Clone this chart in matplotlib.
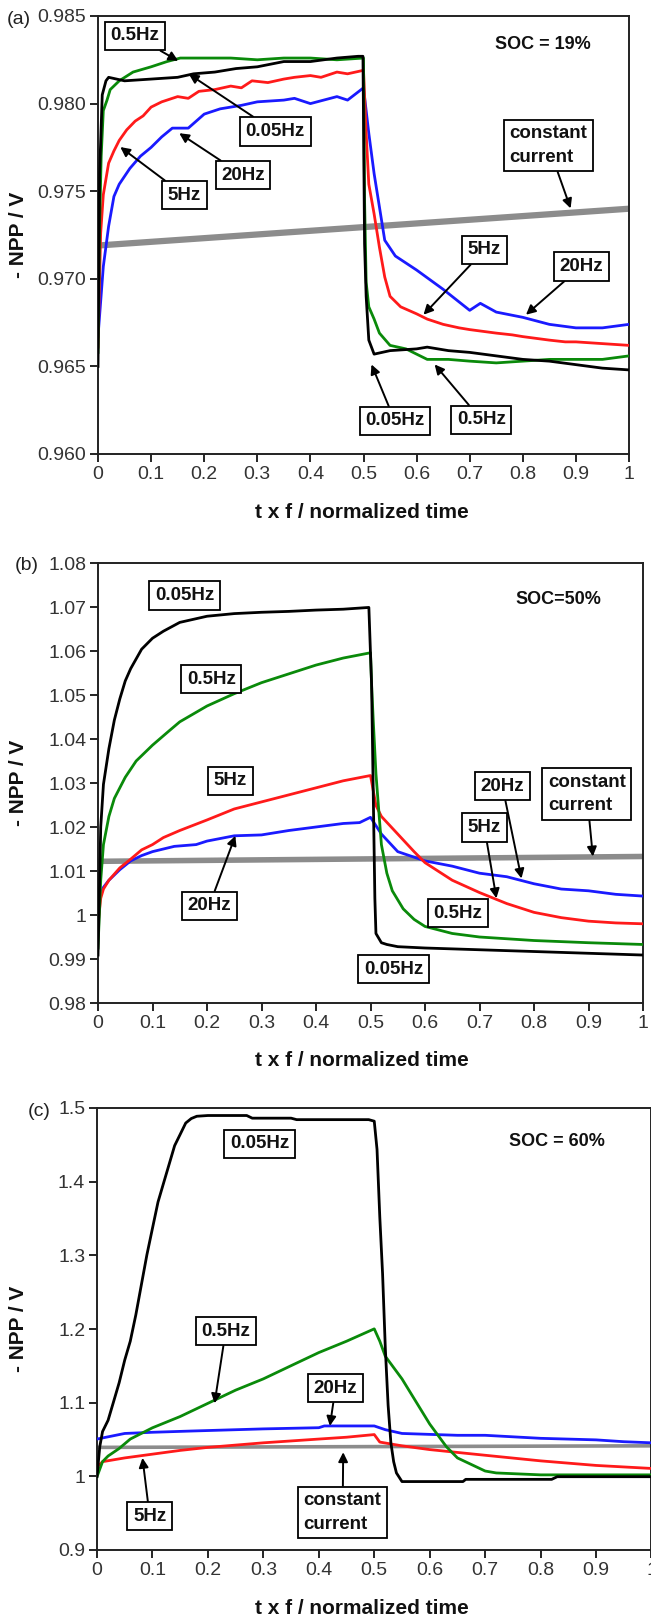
import matplotlib
matplotlib.use("Agg")
import matplotlib.pyplot as plt

plt.rcParams['font.family'] = ['Liberation Sans', 'DejaVu Sans']

# ---------------- Panel (a) SOC = 19% ----------------
a_cc_x = [0.0, 1.0]
a_cc_y = [0.9719, 0.9740]

a_005_x = [0.0, 0.003, 0.008, 0.015, 0.02, 0.05, 0.1, 0.15, 0.18, 0.22, 0.26, 0.3, 0.35, 0.4, 0.45, 0.49, 0.499,
           0.502, 0.505, 0.51, 0.52, 0.55, 0.6, 0.62, 0.66, 0.7, 0.75, 0.8, 0.85, 0.9, 0.95, 1.0]
a_005_y = [0.9650, 0.9760, 0.9805, 0.9813, 0.9815, 0.9813, 0.9814, 0.9815, 0.9817, 0.9818, 0.9820, 0.9821, 0.9824,
           0.9824, 0.9826, 0.9827, 0.9827, 0.9720, 0.9690, 0.9665, 0.9657, 0.9659, 0.9660, 0.9661, 0.9659, 0.9658,
           0.9656, 0.9654, 0.9653, 0.9651, 0.9649, 0.9648]

a_05_x = [0.0, 0.003, 0.006, 0.01, 0.017, 0.023, 0.04, 0.066, 0.1, 0.13, 0.155, 0.2, 0.25, 0.3, 0.35, 0.4, 0.45,
          0.5, 0.502, 0.505, 0.51, 0.52, 0.53, 0.55, 0.58, 0.6, 0.62, 0.66, 0.7, 0.75, 0.8, 0.85, 0.9, 0.95, 1.0]
a_05_y = [0.9658, 0.9730, 0.9770, 0.9796, 0.9802, 0.9808, 0.9813, 0.9818, 0.9821, 0.9824, 0.9826, 0.9826, 0.9826,
          0.9825, 0.9826, 0.9826, 0.9825, 0.9826, 0.9745, 0.9698, 0.9684, 0.9677, 0.9669, 0.9662, 0.9660, 0.9657,
          0.9654, 0.9654, 0.9653, 0.9652, 0.9653, 0.9654, 0.9654, 0.9654, 0.9656]

a_5_x = [0.0, 0.005, 0.01, 0.02, 0.03, 0.04, 0.054, 0.07, 0.085, 0.1, 0.12, 0.15, 0.17, 0.19, 0.22, 0.25, 0.27,
         0.29, 0.32, 0.35, 0.37, 0.4, 0.42, 0.45, 0.47, 0.5, 0.505, 0.51, 0.52, 0.53, 0.54, 0.55, 0.57, 0.6, 0.62,
         0.65, 0.68, 0.7, 0.75, 0.78, 0.8, 0.85, 0.88, 0.9, 0.95, 1.0]
a_5_y = [0.9661, 0.9726, 0.9748, 0.9766, 0.9773, 0.9779, 0.9785, 0.9790, 0.9793, 0.9798, 0.9801, 0.9804, 0.9803,
         0.9807, 0.9808, 0.9810, 0.9809, 0.9813, 0.9812, 0.9814, 0.9815, 0.9816, 0.9815, 0.9818, 0.9817, 0.9819,
         0.9783, 0.9754, 0.9737, 0.9718, 0.9701, 0.9690, 0.9684, 0.9680, 0.9677, 0.9674, 0.9672, 0.9671, 0.9669,
         0.9668, 0.9667, 0.9665, 0.9664, 0.9664, 0.9663, 0.9662]

a_20_x = [0.0, 0.01, 0.02, 0.03, 0.04, 0.06, 0.08, 0.1, 0.12, 0.14, 0.17, 0.2, 0.23, 0.27, 0.3, 0.35, 0.37, 0.4,
          0.45, 0.47, 0.5, 0.51, 0.52, 0.53, 0.54, 0.56, 0.6, 0.65, 0.7, 0.72, 0.75, 0.8, 0.85, 0.9, 0.95, 1.0]
a_20_y = [0.9667, 0.9707, 0.9730, 0.9747, 0.9754, 0.9763, 0.9770, 0.9775, 0.9781, 0.9786, 0.9786, 0.9794, 0.9797,
          0.9799, 0.9801, 0.9802, 0.9803, 0.9800, 0.9804, 0.9802, 0.9809, 0.9783, 0.9760, 0.9741, 0.9722, 0.9713,
          0.9705, 0.9694, 0.9682, 0.9686, 0.9681, 0.9678, 0.9674, 0.9672, 0.9672, 0.9674]

# ---------------- Panel (b) SOC = 50% ----------------
b_cc_x = [0.0, 1.0]
b_cc_y = [1.0122, 1.0133]

b_005_x = [0.0, 0.003, 0.005, 0.01, 0.02, 0.03, 0.04, 0.05, 0.06, 0.08, 0.1, 0.12, 0.15, 0.2, 0.25, 0.3, 0.35,
           0.4, 0.45, 0.497, 0.502, 0.505, 0.508, 0.51, 0.52, 0.53, 0.55, 0.6, 0.7, 0.8, 0.9, 1.0]
b_005_y = [0.9909, 1.0078, 1.0200, 1.0297, 1.0378, 1.0443, 1.0491, 1.0532, 1.0560, 1.0604, 1.0629, 1.0645, 1.0665,
           1.0679, 1.0685, 1.0688, 1.0690, 1.0693, 1.0695, 1.0699, 1.0524, 1.0281, 1.0038, 0.9958, 0.9937, 0.9933,
           0.9928, 0.9925, 0.9921, 0.9917, 0.9913, 0.9909]

b_05_x = [0.0, 0.005, 0.01, 0.02, 0.03, 0.05, 0.07, 0.1, 0.13, 0.15, 0.2, 0.25, 0.3, 0.35, 0.4, 0.45, 0.5, 0.502,
          0.505, 0.51, 0.515, 0.52, 0.53, 0.54, 0.56, 0.58, 0.6, 0.65, 0.7, 0.8, 0.9, 1.0]
b_05_y = [0.9925, 1.0079, 1.0160, 1.0224, 1.0265, 1.0313, 1.0350, 1.0386, 1.0418, 1.0439, 1.0475, 1.0503, 1.0528,
          1.0548, 1.0568, 1.0584, 1.0596, 1.0524, 1.0443, 1.0321, 1.0240, 1.0160, 1.0095, 1.0055, 1.0014, 0.9990,
          0.9974, 0.9958, 0.9950, 0.9942, 0.9937, 0.9933]

b_5_x = [0.0, 0.005, 0.01, 0.02, 0.04, 0.06, 0.08, 0.1, 0.12, 0.15, 0.2, 0.25, 0.3, 0.35, 0.4, 0.45, 0.5, 0.51,
         0.52, 0.55, 0.58, 0.6, 0.65, 0.7, 0.75, 0.8, 0.85, 0.9, 0.95, 1.0]
b_5_y = [0.9978, 1.0038, 1.0059, 1.0079, 1.0107, 1.0127, 1.0148, 1.0160, 1.0176, 1.0192, 1.0216, 1.0241, 1.0257,
         1.0273, 1.0289, 1.0305, 1.0317, 1.0249, 1.0224, 1.0184, 1.0144, 1.0119, 1.0079, 1.0051, 1.0026, 1.0006,
         0.9994, 0.9986, 0.9982, 0.9980]

b_20_x = [0.0, 0.01, 0.02, 0.04, 0.06, 0.08, 0.1, 0.14, 0.18, 0.2, 0.25, 0.3, 0.35, 0.4, 0.45, 0.48, 0.5, 0.52,
          0.55, 0.6, 0.65, 0.7, 0.75, 0.8, 0.85, 0.9, 0.95, 1.0]
b_20_y = [1.0038, 1.0063, 1.0079, 1.0103, 1.0123, 1.0135, 1.0144, 1.0156, 1.0160, 1.0168, 1.0180, 1.0182, 1.0192,
          1.0200, 1.0208, 1.0210, 1.0222, 1.0184, 1.0144, 1.0123, 1.0111, 1.0095, 1.0087, 1.0071, 1.0059, 1.0055,
          1.0047, 1.0043]

# ---------------- Panel (c) SOC = 60% ----------------
c_cc_x = [0.0, 1.0]
c_cc_y = [1.0393, 1.0414]

c_005_x = [0.0, 0.005, 0.01, 0.02, 0.03, 0.04, 0.05, 0.06, 0.07, 0.08, 0.09, 0.1, 0.11, 0.12, 0.13, 0.14, 0.15,
           0.16, 0.17, 0.18, 0.2, 0.27, 0.28, 0.35, 0.36, 0.49, 0.5, 0.505, 0.51, 0.515, 0.52, 0.525, 0.53, 0.535,
           0.54, 0.55, 0.6, 0.66, 0.665, 0.82, 0.83, 1.0]
c_005_y = [0.9995, 1.0403, 1.0608, 1.0761, 1.1016, 1.1272, 1.1578, 1.1834, 1.2191, 1.2600, 1.3008, 1.3366, 1.3723,
           1.3979, 1.4234, 1.4489, 1.4642, 1.4796, 1.4857, 1.4888, 1.4898, 1.4898, 1.4862, 1.4862, 1.4842, 1.4842,
           1.4821, 1.4438, 1.3519, 1.2753, 1.1731, 1.0965, 1.0455, 1.0199, 1.0046, 0.9929, 0.9929, 0.9929, 0.9959,
           0.9959, 0.9995, 0.9995]

c_05_x = [0.0, 0.01, 0.02, 0.04, 0.06, 0.1, 0.15, 0.2, 0.25, 0.3, 0.35, 0.4, 0.45, 0.5, 0.51, 0.52, 0.55, 0.6,
          0.63, 0.65, 0.7, 0.72, 0.8, 1.0]
c_05_y = [0.9995, 1.0199, 1.0276, 1.0378, 1.0506, 1.0659, 1.0812, 1.0991, 1.1170, 1.1323, 1.1502, 1.1680, 1.1834,
          1.2002, 1.1834, 1.1629, 1.1323, 1.0710, 1.0403, 1.0250, 1.0072, 1.0046, 1.0020, 1.0020]

c_20_x = [0.0, 0.05, 0.1, 0.17, 0.3, 0.4, 0.41, 0.5, 0.52, 0.55, 0.65, 0.7, 0.8, 0.9, 0.95, 1.0]
c_20_y = [1.0506, 1.0582, 1.0598, 1.0615, 1.0644, 1.0660, 1.0684, 1.0684, 1.0633, 1.0582, 1.0557, 1.0557, 1.0516,
          1.0495, 1.0470, 1.0455]

c_5_x = [0.0, 0.01, 0.05, 0.1, 0.15, 0.2, 0.3, 0.4, 0.45, 0.5, 0.51, 0.55, 0.6, 0.7, 0.8, 0.9, 1.0]
c_5_y = [1.0123, 1.0199, 1.0250, 1.0301, 1.0352, 1.0393, 1.0455, 1.0506, 1.0531, 1.0567, 1.0465, 1.0414, 1.0363,
         1.0286, 1.0210, 1.0148, 1.0107]

# ticks
x_ticks = [0, 0.1, 0.2, 0.3, 0.4, 0.5, 0.6, 0.7, 0.8, 0.9, 1.0]
x_ticklabels = ['0', '0.1', '0.2', '0.3', '0.4', '0.5', '0.6', '0.7', '0.8', '0.9', '1']
a_yticks = [0.960, 0.965, 0.970, 0.975, 0.980, 0.985]
a_yticklabels = ['0.960', '0.965', '0.970', '0.975', '0.980', '0.985']
b_yticks = [0.98, 0.99, 1.00, 1.01, 1.02, 1.03, 1.04, 1.05, 1.06, 1.07, 1.08]
b_yticklabels = ['0.98', '0.99', '1', '1.01', '1.02', '1.03', '1.04', '1.05', '1.06', '1.07', '1.08']
c_yticks = [0.9, 1.0, 1.1, 1.2, 1.3, 1.4, 1.5]
c_yticklabels = ['0.9', '1', '1.1', '1.2', '1.3', '1.4', '1.5']

GREEN = '#0a8a0a'
RED = '#ff1a1a'
BLUE = '#1a1aff'
GRAY = '#8c8c8c'
TXT = '#111111'

fig = plt.figure(figsize=(6.51, 16.18), dpi=100)
W, H = 651.0, 1618.0


def make_ax(left, right, top, bottom):
    return fig.add_axes([left / W, 1 - bottom / H, (right - left) / W, (bottom - top) / H])


axA = make_ax(98, 629, 16, 454)
axB = make_ax(98, 643, 563, 1003)
axC = make_ax(97, 651.5, 1108, 1550)

box = dict(boxstyle='square,pad=0.3', fc='white', ec='black', lw=1.3)
arrow = dict(arrowstyle='-|>', color='black', lw=1.4, mutation_scale=14, shrinkA=0, shrinkB=0)


def lab(ax, text, xt, yt, tip=None):
    kw = dict(fontsize=13.5, fontweight='bold', color=TXT, ha='center', va='center', bbox=box,
              multialignment='left', linespacing=1.5)
    if tip is None:
        ax.text(xt, yt, text, zorder=6, **kw)
    else:
        ax.annotate(text, xy=tip, xytext=(xt, yt), arrowprops=arrow, zorder=6, **kw)


def style(ax, yticks, yticklabels, ylim):
    ax.set_xlim(0, 1)
    ax.set_ylim(*ylim)
    ax.set_xticks(x_ticks)
    ax.set_xticklabels(x_ticklabels)
    ax.set_yticks(yticks)
    ax.set_yticklabels(yticklabels)
    ax.tick_params(direction='out', length=6, width=1.2, labelsize=14, colors='black', labelcolor='#333333', pad=2.5)
    for s in ax.spines.values():
        s.set_linewidth(1.4)
        s.set_color('#222222')


# Panel (a)
axA.plot(a_cc_x, a_cc_y, color=GRAY, lw=4.5, solid_capstyle='butt', zorder=2)
axA.plot(a_20_x, a_20_y, color=BLUE, lw=2.0, zorder=3)
axA.plot(a_5_x, a_5_y, color=RED, lw=2.0, zorder=3)
axA.plot(a_05_x, a_05_y, color=GREEN, lw=2.0, zorder=3)
axA.plot(a_005_x, a_005_y, color='black', lw=2.0, zorder=4)
style(axA, a_yticks, a_yticklabels, (0.960, 0.985))
lab(axA, '0.5Hz', 0.069, 0.98386, (0.151, 0.98244))
lab(axA, '0.05Hz', 0.334, 0.97841, (0.171, 0.98169))
lab(axA, '20Hz', 0.273, 0.97591, (0.153, 0.97831))
lab(axA, '5Hz', 0.163, 0.97477, (0.042, 0.97752))
lab(axA, 'constant\ncurrent', 0.848, 0.97761, (0.89, 0.97402))
lab(axA, '5Hz', 0.728, 0.97165, (0.613, 0.96795))
lab(axA, '20Hz', 0.91, 0.9707, (0.806, 0.96795))
lab(axA, '0.05Hz', 0.559, 0.96189, (0.515, 0.96511))
lab(axA, '0.5Hz', 0.722, 0.96195, (0.634, 0.96511))
axA.text(0.838, 0.98339, 'SOC = 19%', fontsize=13, fontweight='bold', color=TXT, ha='center', va='center')

# Panel (b)
axB.plot(b_cc_x, b_cc_y, color=GRAY, lw=4.0, solid_capstyle='butt', zorder=2)
axB.plot(b_20_x, b_20_y, color=BLUE, lw=2.0, zorder=3)
axB.plot(b_5_x, b_5_y, color=RED, lw=2.0, zorder=3)
axB.plot(b_05_x, b_05_y, color=GREEN, lw=2.0, zorder=3)
axB.plot(b_005_x, b_005_y, color='black', lw=2.0, zorder=4)
style(axB, b_yticks, b_yticklabels, (0.98, 1.08))
lab(axB, '0.05Hz', 0.159, 1.0726)
lab(axB, '0.5Hz', 0.208, 1.0536)
lab(axB, '5Hz', 0.243, 1.0305)
lab(axB, '20Hz', 0.204, 1.0021, (0.252, 1.018))
lab(axB, '20Hz', 0.742, 1.0293, (0.777, 1.0083))
lab(axB, '5Hz', 0.709, 1.0199, (0.731, 1.0038))
lab(axB, 'constant\ncurrent', 0.897, 1.0275, (0.908, 1.0133))
lab(axB, '0.5Hz', 0.66, 1.0004)
lab(axB, '0.05Hz', 0.542, 0.9877)
axB.text(0.845, 1.0718, 'SOC=50%', fontsize=13, fontweight='bold', color=TXT, ha='center', va='center')

# Panel (c)
axC.plot(c_cc_x, c_cc_y, color=GRAY, lw=2.6, solid_capstyle='butt', zorder=2)
axC.plot(c_20_x, c_20_y, color=BLUE, lw=2.0, zorder=3)
axC.plot(c_5_x, c_5_y, color=RED, lw=2.0, zorder=3)
axC.plot(c_05_x, c_05_y, color=GREEN, lw=2.0, zorder=3)
axC.plot(c_005_x, c_005_y, color='black', lw=2.0, zorder=4)
style(axC, c_yticks, c_yticklabels, (0.9, 1.5))
lab(axC, '0.05Hz', 0.293, 1.4515)
lab(axC, '0.5Hz', 0.232, 1.1971, (0.212, 1.0991))
lab(axC, '20Hz', 0.43, 1.1195, (0.42, 1.0684))
lab(axC, '5Hz', 0.095, 0.9459, (0.082, 1.025))
lab(axC, 'constant\ncurrent', 0.443, 0.951, (0.444, 1.0327))
axC.text(0.829, 1.454, 'SOC = 60%', fontsize=13, fontweight='bold', color=TXT, ha='center', va='center')

# axis labels and panel tags
for yc in [(16 + 454) / 2, (563 + 1003) / 2, (1108 + 1550) / 2]:
    fig.text(19 / W, 1 - yc / H, '- NPP / V', rotation=90, fontsize=15, fontweight='bold', color=TXT,
             ha='center', va='center')
for yl in [513, 1060, 1608]:
    fig.text(362 / W, 1 - yl / H, 't x f / normalized time', fontsize=15, fontweight='bold', color=TXT,
             ha='center', va='center')
fig.text(19 / W, 1 - 20 / H, '(a)', fontsize=14, color='#222222', ha='center', va='center')
fig.text(27 / W, 1 - 566 / H, '(b)', fontsize=14, color='#222222', ha='center', va='center')
fig.text(39 / W, 1 - 1112 / H, '(c)', fontsize=14, color='#222222', ha='center', va='center')

fig.savefig('out.png', dpi=100)
